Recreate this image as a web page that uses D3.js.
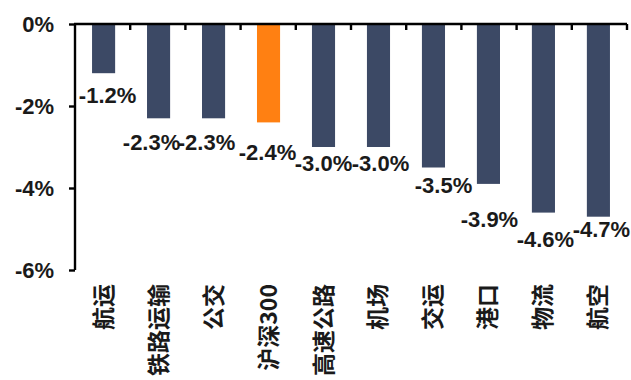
<!DOCTYPE html>
<html>
<head>
<meta charset="utf-8">
<script src="https://cdn.jsdelivr.net/npm/d3@7/dist/d3.min.js"></script>
<style>
  html, body { margin: 0; padding: 0; background: #fff; }
  svg { display: block; }
  .num { font-family: "Liberation Sans", Arial, sans-serif; font-size: 22px; font-weight: bold; fill: #1a1a1a; }
  .cat { font-family: "Noto Sans CJK SC", sans-serif; font-size: 23px; font-weight: 700; fill: #1a1a1a; }
</style>
</head>
<body>
<svg id="chart" width="631" height="380"></svg>
<script>
// Sector returns, %
const categories = ["航运", "铁路运输", "公交", "沪深300", "高速公路", "机场", "交运", "港口", "物流", "航空"];
const values = [-1.2, -2.3, -2.3, -2.4, -3.0, -3.0, -3.5, -3.9, -4.6, -4.7];
const benchmark = "沪深300";
const yTicks = [0, -2, -4, -6];

// Label nudges (px) so neighbouring value labels sit like the source layout
const labelShift = [
  [4, -2], [-7, 0], [-7, 0], [-1, 6], [0, -8],
  [2, -8], [10, -6], [1, 11], [2, 2], [3, -12]
];

const svg = d3.select("#chart");
const plotL = 75, plotR = 627, plotT = 24, plotB = 270;

const x = d3.scaleBand().domain(categories).range([plotL, plotR]).paddingInner(0.58).paddingOuter(0.31);
const xb = d3.scaleBand().domain(categories).range([plotL, plotR]);
const y = d3.scaleLinear().domain([0, -6]).range([plotT, plotB]);

const navy = "#3c4965", orange = "#ff8012";

// bars
svg.append("g").selectAll("rect")
  .data(values)
  .join("rect")
  .attr("x", (d, i) => x(categories[i]))
  .attr("y", y(0))
  .attr("width", x.bandwidth())
  .attr("height", d => y(d) - y(0))
  .attr("fill", (d, i) => categories[i] === benchmark ? orange : navy);

// y axis
const yAxis = svg.append("g").attr("transform", `translate(${plotL},0)`)
  .call(d3.axisLeft(y).tickValues(yTicks).tickSize(6).tickPadding(15).tickFormat(d => d + "%"));
yAxis.select(".domain").attr("stroke", "#000").attr("stroke-width", 2.4).attr("d", `M0,${plotT}V${plotB}`);
yAxis.selectAll(".tick line").attr("stroke", "#000").attr("stroke-width", 2.4);
yAxis.selectAll(".tick text").attr("class", "num").attr("dy", "0.36em");

// x axis along zero line, ticks at category boundaries
const xAxis = svg.append("g").attr("transform", `translate(0,${y(0)})`);
xAxis.append("line").attr("x1", plotL - 1).attr("x2", plotR).attr("stroke", "#000").attr("stroke-width", 2.4);
xAxis.selectAll("line.tk")
  .data(categories)
  .join("line")
  .attr("class", "tk")
  .attr("x1", d => xb(d) + xb.bandwidth())
  .attr("x2", d => xb(d) + xb.bandwidth())
  .attr("y1", 0).attr("y2", 6)
  .attr("stroke", "#000").attr("stroke-width", 2.4);

// value labels
svg.append("g").selectAll("text")
  .data(values)
  .join("text")
  .attr("class", "num")
  .attr("text-anchor", "middle")
  .attr("x", (d, i) => x(categories[i]) + x.bandwidth() / 2 + labelShift[i][0])
  .attr("y", (d, i) => y(d) + 24 + labelShift[i][1])
  .attr("dy", "0.36em")
  .text(d => d.toFixed(1) + "%");

// category labels, rotated
svg.append("g").selectAll("text")
  .data(categories)
  .join("text")
  .attr("class", "cat")
  .attr("text-anchor", "end")
  .attr("transform", d => `translate(${x(d) + x.bandwidth() / 2 + 8},284) rotate(-90)`)
  .text(d => d);
</script>
</body>
</html>
